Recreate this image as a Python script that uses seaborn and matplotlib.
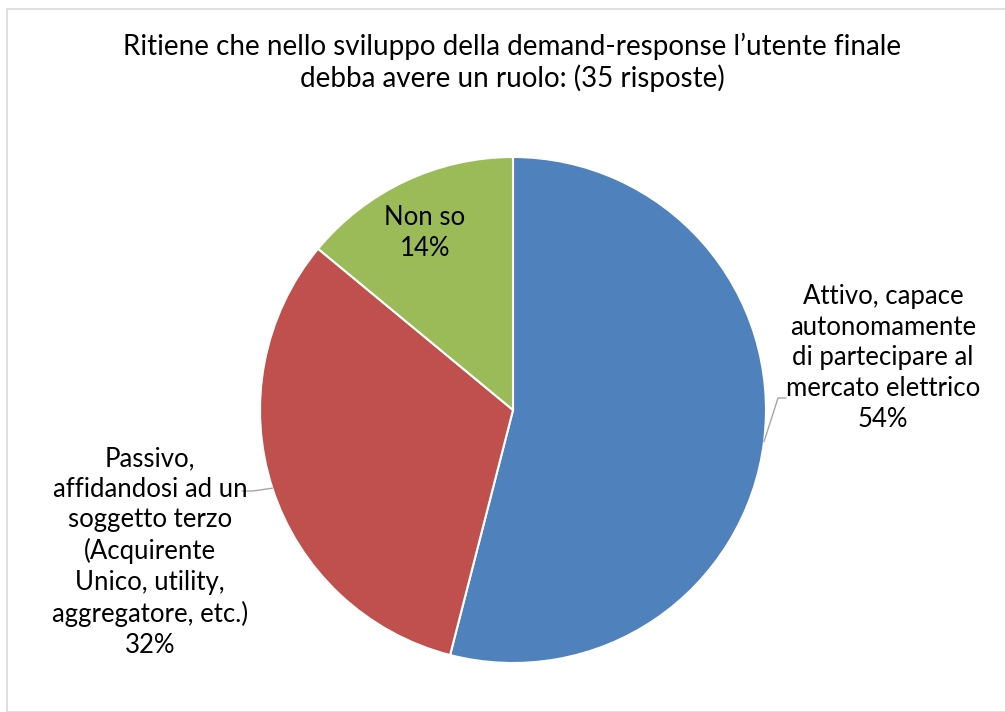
import numpy as np
import matplotlib
matplotlib.use("Agg")
import matplotlib.pyplot as plt
import seaborn as sns
from matplotlib.patches import Rectangle

# Survey answers (35 responses), shares in percent
categories = [
    "Attivo, capace\nautonomamente\ndi partecipare al\nmercato elettrico",
    "Passivo,\naffidandosi ad un\nsoggetto terzo\n(Acquirente\nUnico, utility,\naggregatore, etc.)",
    "Non so",
]
shares = [54, 32, 14]
title = ("Ritiene che nello sviluppo della demand-response l\u2019utente finale\n"
         "debba avere un ruolo: (35 risposte)")

sns.set_theme(style="white")
plt.rcParams["font.family"] = ["Lato", "DejaVu Sans"]

colors = ["#4F81BD", "#C0504D", "#9BBB59"]

W, H = 1005, 712
fig = plt.figure(figsize=(W / 100, H / 100), dpi=100)
fig.patch.set_facecolor("white")

# chart frame
fig.add_artist(Rectangle((7 / W, 0), 1.2, (H - 9) / H, transform=fig.transFigure,
                         fill=False, edgecolor="#D9D9D9", linewidth=1.2))

cx, cy, r = 513, 410, 253
ax = fig.add_axes([(cx - r) / W, (H - cy - r) / H, 2 * r / W, 2 * r / H])

wedges, _ = ax.pie(shares, colors=colors, startangle=90, counterclock=False,
                   radius=1.0, wedgeprops=dict(edgecolor="white", linewidth=1.5))
ax.set_xlim(-1, 1)
ax.set_ylim(-1, 1)
ax.set_aspect("equal")
ax.axis("off")

fs = 18.5
def px(x, y):
    return (x - cx) / r, (cy - y) / r

# label positions (pixel centres of each text block)
label_pos = [(883, 358), (150, 552), (425, 233)]
for i, (lab, p) in enumerate(zip(categories, shares)):
    tx, ty = px(*label_pos[i])
    ax.text(tx, ty, f"{lab}\n{p}%", ha="center", va="center", fontsize=fs,
            color="black", linespacing=1.28, clip_on=False)

# leader lines for the outside labels
def edge_point(w):
    ang = np.deg2rad((w.theta1 + w.theta2) / 2)
    return np.cos(ang), np.sin(ang)

ex, ey = edge_point(wedges[0])
kx, ky = px(778, 398)
hx, _ = px(786, 398)
ax.plot([ex, kx, hx], [ey, ky, ky], color="#A6A6A6", lw=1.0, clip_on=False)

ex, ey = edge_point(wedges[1])
kx, ky = px(253, 491)
hx, _ = px(242, 491)
ax.plot([ex, kx, hx], [ey, ky, ky], color="#A6A6A6", lw=1.0, clip_on=False)

fig.text(512 / W, 1 - 62 / H, title, ha="center", va="center", fontsize=20,
         color="black", linespacing=1.19)

fig.savefig("out.png", dpi=100, facecolor="white")
